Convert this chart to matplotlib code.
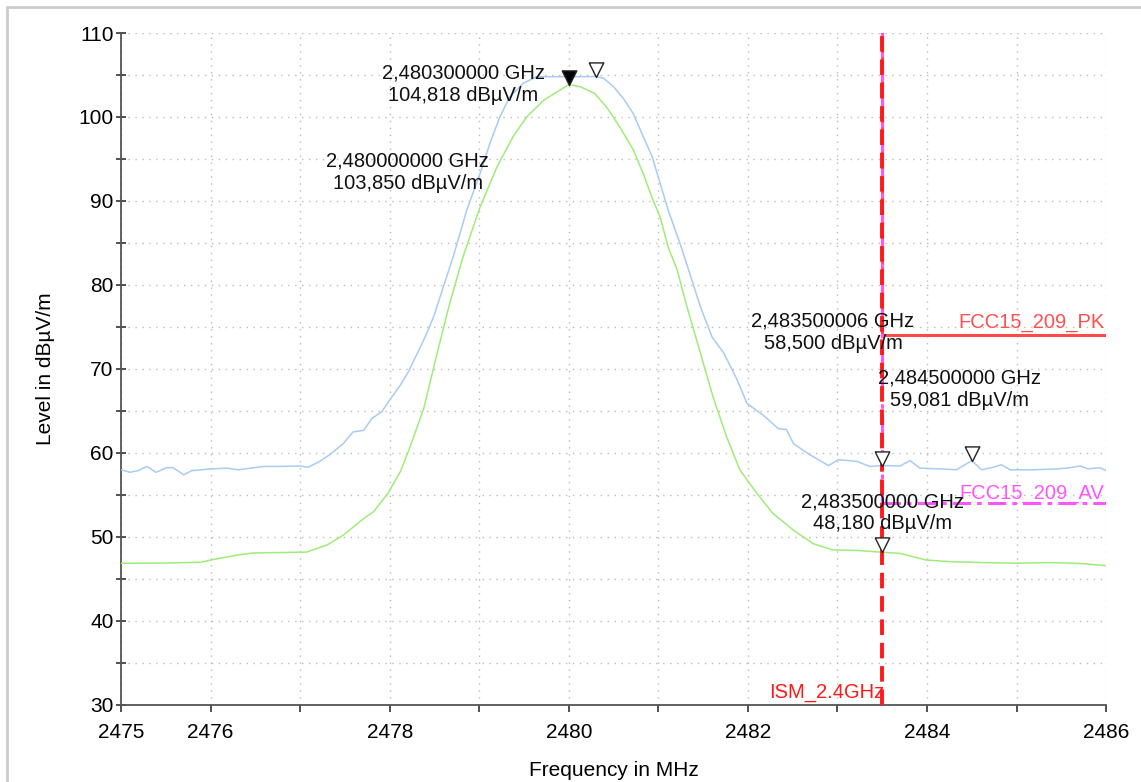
import matplotlib
matplotlib.use('Agg')
import matplotlib.pyplot as plt
from matplotlib.patches import Rectangle

plt.rcParams['font.family'] = ['Liberation Sans', 'DejaVu Sans']

# peak trace (blue)
pk_freq = [2475.00, 2475.10, 2475.19, 2475.29, 2475.39, 2475.51, 2475.58, 2475.70, 2475.79,
           2476.00, 2476.18, 2476.31, 2476.59, 2476.78, 2477.00, 2477.09, 2477.22, 2477.33,
           2477.48, 2477.59, 2477.71, 2477.80, 2477.91, 2478.00, 2478.12, 2478.21, 2478.38,
           2478.49, 2478.60, 2478.71, 2478.86, 2479.01, 2479.12, 2479.23, 2479.34, 2479.49,
           2479.64, 2479.90, 2480.13, 2480.30, 2480.39, 2480.50, 2480.61, 2480.72, 2480.83,
           2480.93, 2481.02, 2481.11, 2481.24, 2481.35, 2481.47, 2481.60, 2481.73, 2481.88,
           2481.99, 2482.17, 2482.34, 2482.43, 2482.51, 2482.69, 2482.90, 2483.01, 2483.22,
           2483.36, 2483.50, 2483.70, 2483.81, 2483.92, 2484.15, 2484.33, 2484.50, 2484.61,
           2484.74, 2484.83, 2484.93, 2485.19, 2485.45, 2485.56, 2485.71, 2485.80, 2485.93,
           2486.00]
pk_level = [58.0, 57.7, 57.9, 58.4, 57.7, 58.25, 58.25, 57.4, 57.9,
            58.1, 58.2, 58.0, 58.4, 58.4, 58.45, 58.3, 59.0, 59.8,
            61.1, 62.5, 62.7, 64.1, 64.9, 66.3, 68.1, 69.7, 73.45,
            76.2, 79.8, 83.4, 88.9, 93.3, 96.9, 100.0, 102.4, 104.0,
            104.8, 104.8, 104.8, 104.82, 104.6, 103.6, 102.2, 100.4, 97.7,
            95.3, 92.1, 88.9, 85.0, 81.4, 77.4, 73.8, 71.9, 68.7,
            65.9, 64.5, 62.9, 62.8, 61.1, 59.8, 58.5, 59.2, 59.0,
            58.4, 58.5, 58.45, 59.1, 58.2, 58.1, 58.0, 59.08, 58.0,
            58.3, 58.6, 58.0, 58.0, 58.1, 58.2, 58.45, 58.1, 58.25,
            57.9]

# average trace (green)
av_freq = [2475.00, 2475.55, 2475.90, 2476.00, 2476.33, 2476.48, 2477.07, 2477.30, 2477.48,
           2477.71, 2477.82, 2477.98, 2478.12, 2478.23, 2478.38, 2478.53, 2478.67, 2478.82,
           2479.01, 2479.20, 2479.38, 2479.53, 2479.72, 2479.90, 2480.00, 2480.13, 2480.29,
           2480.42, 2480.57, 2480.72, 2480.83, 2480.94, 2481.02, 2481.11, 2481.21, 2481.32,
           2481.47, 2481.61, 2481.76, 2481.91, 2482.10, 2482.28, 2482.51, 2482.73, 2482.95,
           2483.22, 2483.50, 2483.70, 2483.99, 2484.26, 2484.63, 2485.00, 2485.37, 2485.67,
           2486.00]
av_level = [46.87, 46.9, 47.0, 47.26, 47.9, 48.1, 48.2, 49.05, 50.2,
            52.2, 53.0, 55.2, 57.8, 60.8, 65.3, 71.9, 77.8, 83.4,
            89.3, 94.1, 97.7, 100.0, 102.0, 103.2, 103.85, 103.6, 102.8,
            101.2, 98.8, 96.1, 93.3, 90.1, 88.1, 84.5, 81.8, 77.4,
            71.9, 66.7, 62.0, 58.0, 55.2, 52.8, 50.8, 49.2, 48.45,
            48.4, 48.18, 48.05, 47.26, 47.06, 46.95, 46.87, 46.95, 46.87,
            46.6]

# limit lines and band edge
limit_start = 2483.5
limit_end = 2486.0
pk_limit = 74.0
av_limit = 54.0
band_edge = 2483.5

# markers
marker_freq = [2480.0, 2480.3, 2483.5, 2484.5, 2483.5]
marker_level = [103.85, 104.818, 58.5, 59.081, 48.18]
marker_filled = [True, False, False, False, False]
marker_text = ['2,480300000 GHz\n104,818 dBµV/m',
               '2,480000000 GHz\n103,850 dBµV/m',
               '2,483500006 GHz\n58,500 dBµV/m',
               '2,484500000 GHz\n59,081 dBµV/m',
               '2,483500000 GHz\n48,180 dBµV/m']

fig = plt.figure(figsize=(11.41, 7.82), dpi=100)
ax = fig.add_axes([0.1061, 0.0985, 0.8633, 0.8593])

# light frame of the window
fig.patches.append(Rectangle((7 / 1141, -0.1), 1.2, 1 - 7 / 782 + 0.1, transform=fig.transFigure,
                             fill=False, edgecolor='#cccccc', lw=2))

ax.plot(pk_freq, pk_level, color='#a8ccf2', lw=1.1, zorder=3)
ax.plot(av_freq, av_level, color='#9fec7a', lw=1.1, zorder=3)

# limit lines (with their vertical part at the start frequency)
ax.plot([limit_start, limit_end], [pk_limit, pk_limit], color='#ff4a4a', lw=2.2, zorder=4)
ax.plot([limit_start, limit_start], [pk_limit, 110], color='#ff4a4a', lw=2.2, zorder=4)
ax.plot([limit_start, limit_end], [av_limit, av_limit], color='#ff55ff', lw=2.2,
        linestyle=(0, (6, 2, 1.5, 2)), zorder=4)
ax.plot([limit_start, limit_start], [av_limit, 110], color='#ff55ff', lw=2.2,
        linestyle=(0, (6, 2, 1.5, 2)), zorder=4)
ax.axvline(band_edge, color='#ff1a1a', lw=2.8, linestyle=(0, (4, 2)), zorder=5)

ax.text(limit_end - 0.02, pk_limit + 0.4, 'FCC15_209_PK', color='#ff5050', fontsize=14.5,
        ha='right', va='bottom')
ax.text(limit_end - 0.02, av_limit + 0.1, 'FCC15_209_AV', color='#ff55ff', fontsize=14.5,
        ha='right', va='bottom')
ax.text(band_edge + 0.02, 30.4, 'ISM_2.4GHz', color='#ff1a1a', fontsize=14.5,
        ha='right', va='bottom')

# triangle markers with the tip on the trace
tri = [(-0.5, 1.0), (0.5, 1.0), (0.0, 0.0), (-0.5, 1.0)]
for f, lv, filled in zip(marker_freq, marker_level, marker_filled):
    ax.plot(f, lv, marker=tri, markersize=21, markeredgewidth=1,
            markeredgecolor='#222222', markerfacecolor='black' if filled else 'white',
            linestyle='none', zorder=6)

# marker annotations
text_pos = [(2478.82, 103.9), (2478.20, 93.45), (2482.95, 74.4), (2484.36, 67.6), (2483.5, 52.9)]
for (tx, ty), s in zip(text_pos, marker_text):
    ax.text(tx, ty, s, fontsize=14.5, ha='center', va='center', linespacing=1.2,
            color='#111111', zorder=7)

ax.set_xlim(2475, 2486)
ax.set_ylim(30, 110)
ax.set_xticks([2475, 2476, 2478, 2480, 2482, 2484, 2486])
ax.set_xticks([2477, 2479, 2481, 2483, 2485], minor=True)
ax.set_yticks(range(30, 111, 10))
ax.set_yticks(range(35, 110, 10), minor=True)
ax.grid(True, which='both', linestyle=(0, (1, 4)), color='#bbbbbb', lw=1)
ax.set_axisbelow(True)

for side in ['top', 'right']:
    ax.spines[side].set_visible(False)
for side in ['left', 'bottom']:
    ax.spines[side].set_color('#555555')
    ax.spines[side].set_linewidth(1.3)

ax.tick_params(axis='x', which='both', direction='out', length=5, width=1.2, color='#333333',
               labelsize=15, pad=8)
ax.tick_params(axis='y', which='both', direction='inout', length=7, width=1.2, color='#333333',
               labelsize=15, pad=2)

ax.set_xlabel('Frequency in MHz', fontsize=15)
ax.set_ylabel('Level in dBµV/m', fontsize=15)
ax.xaxis.set_label_coords(0.5, -0.083)
ax.yaxis.set_label_coords(-0.067, 0.5)

fig.savefig('out.png', dpi=100)
